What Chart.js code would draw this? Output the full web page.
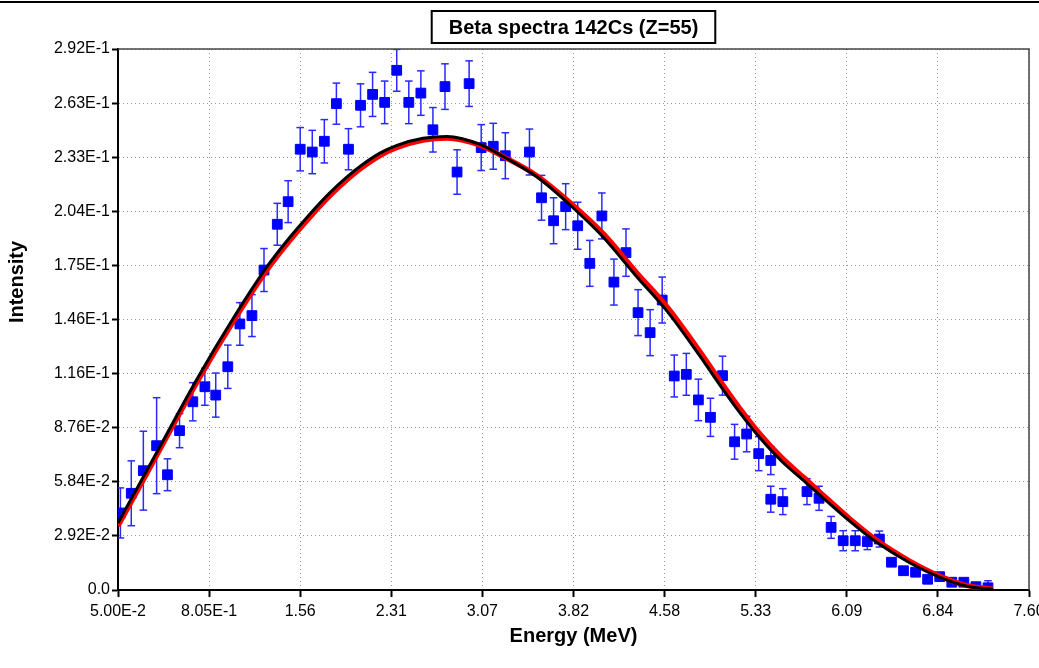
<!DOCTYPE html>
<html>
<head>
<meta charset="utf-8">
<title>Beta spectra 142Cs (Z=55)</title>
<script src="https://cdn.jsdelivr.net/npm/chart.js@4.4.0/dist/chart.umd.min.js"></script>
<style>
  html, body { margin: 0; padding: 0; background: #fff; }
  #wrap { position: relative; width: 1039px; height: 668px; }
</style>
</head>
<body>
<div id="wrap"><canvas id="chart"></canvas></div>
<script>
const chartTitle = 'Beta spectra 142Cs (Z=55)';
const xTitle = 'Energy (MeV)';
const yTitle = 'Intensity';

const xTickValues = [0.05, 0.805, 1.56, 2.315, 3.07, 3.825, 4.58, 5.335, 6.09, 6.845, 7.60];
const xTickLabels = ['5.00E-2', '8.05E-1', '1.56', '2.31', '3.07', '3.82', '4.58', '5.33', '6.09', '6.84', '7.60'];
const yTickValues = [0, 0.0292, 0.0584, 0.0876, 0.1168, 0.146, 0.1752, 0.2044, 0.2336, 0.2628, 0.292];
const yTickLabels = ['0.0', '2.92E-2', '5.84E-2', '8.76E-2', '1.16E-1', '1.46E-1', '1.75E-1', '2.04E-1', '2.33E-1', '2.63E-1', '2.92E-1'];

// measured spectrum (blue squares with error bars)
const pointEnergy = [
  0.07, 0.16, 0.26, 0.37, 0.46, 0.56, 0.67, 0.77, 0.86, 0.96,
  1.06, 1.16, 1.26, 1.37, 1.46, 1.56, 1.66, 1.76, 1.86, 1.96,
  2.06, 2.16, 2.26, 2.36, 2.46, 2.56, 2.66, 2.76, 2.86, 2.96,
  3.06, 3.16, 3.26, 3.46, 3.56, 3.66, 3.76, 3.86, 3.96, 4.06,
  4.16, 4.26, 4.36, 4.46, 4.56, 4.66, 4.76, 4.86, 4.96, 5.06,
  5.16, 5.26, 5.36, 5.46, 5.46, 5.56, 5.76, 5.86, 5.96, 6.06,
  6.16, 6.26, 6.36, 6.46, 6.56, 6.66, 6.76, 6.86, 6.96, 7.06,
  7.16, 7.26
];
const pointIntensity = [
  0.0416, 0.0522, 0.0644, 0.0779, 0.0622, 0.0860, 0.1016, 0.1097, 0.1052, 0.1205,
  0.1436, 0.1481, 0.1727, 0.1974, 0.2096, 0.2379, 0.2364, 0.2422, 0.2625, 0.2379,
  0.2616, 0.2675, 0.2632, 0.2805, 0.2632, 0.2682, 0.2484, 0.2717, 0.2256, 0.2733,
  0.2388, 0.2395, 0.2344, 0.2364, 0.2117, 0.1993, 0.2069, 0.1966, 0.1763, 0.2019,
  0.1662, 0.1821, 0.1497, 0.1389, 0.1565, 0.1155, 0.1164, 0.1026, 0.0932, 0.1157,
  0.0800, 0.0842, 0.0736, 0.0699, 0.0490, 0.0477, 0.0531, 0.0495, 0.0338, 0.0266,
  0.0266, 0.0261, 0.0275, 0.0150, 0.0104, 0.0096, 0.0058, 0.0072, 0.0042, 0.0042,
  0.0018, 0.0012
];
const pointError = [
  0.0135, 0.0175, 0.0213, 0.0259, 0.0086, 0.0092, 0.0103, 0.0100, 0.0119, 0.0117,
  0.0115, 0.0113, 0.0116, 0.0113, 0.0113, 0.0117, 0.0117, 0.0117, 0.0111, 0.0111,
  0.0116, 0.0119, 0.0115, 0.0113, 0.0115, 0.0120, 0.0120, 0.0123, 0.0120, 0.0123,
  0.0124, 0.0124, 0.0124, 0.0124, 0.0121, 0.0124, 0.0124, 0.0127, 0.0124, 0.0124,
  0.0124, 0.0128, 0.0124, 0.0124, 0.0124, 0.0113, 0.0113, 0.0112, 0.0103, 0.0105,
  0.0094, 0.0096, 0.0092, 0.0076, 0.0070, 0.0070, 0.0070, 0.0065, 0.0059, 0.0054,
  0.0054, 0.0043, 0.0043, 0.0016, 0.0016, 0.0016, 0.0016, 0.0016, 0.0016, 0.0016,
  0.0016, 0.0038
];

// calculated spectra (black and red curves)
const curveEnergy = [
  0.05, 0.373, 0.705, 1.004, 1.285, 1.476, 1.641, 1.807, 1.948, 2.080,
  2.221, 2.362, 2.578, 2.777, 3.050, 3.241, 3.523, 3.796, 4.070, 4.351,
  4.600, 4.873, 5.050, 5.200, 5.371, 5.550, 5.744, 5.926, 6.117, 6.340,
  6.614, 6.863, 7.086, 7.302
];
const blackCurve = [
  0.0362, 0.0745, 0.1139, 0.1465, 0.1745, 0.1905, 0.2030, 0.2145, 0.2230, 0.2298,
  0.2358, 0.2400, 0.2438, 0.2448, 0.2405, 0.2340, 0.2229, 0.2078, 0.1905, 0.1689,
  0.1505, 0.1262, 0.1095, 0.0960, 0.0820, 0.0695, 0.0584, 0.0478, 0.0370, 0.0256,
  0.0146, 0.0068, 0.0020, 0.0003
];
const redCurve = [
  0.0345, 0.0728, 0.1121, 0.1447, 0.1727, 0.1887, 0.2012, 0.2128, 0.2214, 0.2283,
  0.2344, 0.2387, 0.2427, 0.2438, 0.2400, 0.2340, 0.2236, 0.2092, 0.1925, 0.1712,
  0.1530, 0.1288, 0.1120, 0.0984, 0.0843, 0.0716, 0.0602, 0.0494, 0.0384, 0.0268,
  0.0156, 0.0075, 0.0024, 0.0005
];

const FONT = '"Liberation Sans", Arial, sans-serif';

const toXY = (xs, ys) => xs.map((x, i) => ({ x: x, y: ys[i] }));

// vertical error segments, separated by gaps
const errorBars = [];
pointEnergy.forEach((e, i) => {
  errorBars.push({ x: e, y: pointIntensity[i] - pointError[i] });
  errorBars.push({ x: e, y: pointIntensity[i] + pointError[i] });
  errorBars.push({ x: e, y: null });
});

// plot box, window edge, boxed title and y title
const frame = {
  id: 'frame',
  beforeDatasetsDraw(chart) {
    const { ctx, chartArea: a } = chart;
    ctx.save();
    ctx.strokeStyle = '#444';
    ctx.lineWidth = 1.5;
    ctx.beginPath();
    ctx.moveTo(a.left, a.top);
    ctx.lineTo(a.right, a.top);
    ctx.lineTo(a.right, a.bottom);
    ctx.stroke();
    ctx.restore();
  },
  afterDraw(chart) {
    const { ctx, chartArea: a, width } = chart;
    ctx.save();
    ctx.fillStyle = '#000';
    ctx.fillRect(0, 1, width, 2);
    ctx.font = 'bold 20px ' + FONT;
    const cx = (a.left + a.right) / 2;
    const w = ctx.measureText(chartTitle).width + 34;
    ctx.fillStyle = '#fff';
    ctx.fillRect(cx - w / 2, 11, w, 32);
    ctx.lineWidth = 2;
    ctx.strokeStyle = '#000';
    ctx.strokeRect(cx - w / 2, 11, w, 32);
    ctx.fillStyle = '#000';
    ctx.textAlign = 'center';
    ctx.textBaseline = 'middle';
    ctx.fillText(chartTitle, cx, 28);
    // y axis title sits above the centre of the axis in the original
    ctx.translate(17, 282);
    ctx.rotate(-Math.PI / 2);
    ctx.fillText(yTitle, 0, 0);
    ctx.restore();
  }
};

const ctx = document.getElementById('chart').getContext('2d');
new Chart(ctx, {
  type: 'scatter',
  data: {
    datasets: [{
      label: 'calc 1',
      data: toXY(curveEnergy, blackCurve),
      showLine: true,
      borderColor: '#000',
      borderWidth: 3,
      pointRadius: 0,
      cubicInterpolationMode: 'monotone',
      order: 0
    }, {
      label: 'calc 2',
      data: toXY(curveEnergy, redCurve),
      showLine: true,
      borderColor: '#ff0000',
      borderWidth: 5,
      pointRadius: 0,
      cubicInterpolationMode: 'monotone',
      order: 1
    }, {
      label: 'experiment',
      data: toXY(pointEnergy, pointIntensity),
      pointStyle: 'rect',
      pointRadius: 6.9,
      pointBorderWidth: 1,
      backgroundColor: '#0000ff',
      borderColor: '#0000ff',
      order: 2
    }, {
      label: 'errors',
      data: errorBars,
      showLine: true,
      spanGaps: false,
      borderColor: '#2a2aff',
      borderWidth: 1.5,
      pointStyle: 'line',
      pointRadius: 3.8,
      pointBorderWidth: 1.5,
      pointBorderColor: '#2a2aff',
      order: 3
    }]
  },
  options: {
    responsive: true,
    maintainAspectRatio: false,
    animation: false,
    events: [],
    layout: { padding: { top: 49, right: 10, left: 0, bottom: 0 } },
    plugins: {
      legend: { display: false },
      tooltip: { enabled: false },
      title: { display: false }
    },
    scales: {
      x: {
        type: 'linear',
        min: 0.05,
        max: 7.60,
        afterBuildTicks: s => { s.ticks = xTickValues.map(v => ({ value: v })); },
        afterFit: s => { s.height = 78; s.paddingLeft = 0; s.paddingRight = 0; },
        ticks: {
          callback: (v, i) => xTickLabels[i],
          font: { family: FONT, size: 16 },
          color: '#000',
          padding: 5,
          maxRotation: 0,
          autoSkip: false
        },
        grid: { color: '#999', lineWidth: 1, tickColor: '#000', tickWidth: 2, tickLength: 7 },
        border: { display: true, color: '#000', width: 2, dash: [1, 3] },
        title: {
          display: true,
          text: xTitle,
          color: '#000',
          font: { family: FONT, size: 20, weight: 'bold' },
          padding: { top: 0, bottom: 20 }
        }
      },
      y: {
        type: 'linear',
        min: 0,
        max: 0.292,
        afterBuildTicks: s => { s.ticks = yTickValues.map(v => ({ value: v })); },
        afterFit: s => { s.width = 118; },
        ticks: {
          callback: (v, i) => yTickLabels[i],
          font: { family: FONT, size: 16 },
          color: '#000',
          padding: 2
        },
        grid: { color: '#999', lineWidth: 1, tickColor: '#000', tickWidth: 2, tickLength: 6 },
        border: { display: true, color: '#000', width: 2, dash: [1, 3] },
        title: { display: false, text: yTitle }
      }
    }
  },
  plugins: [frame]
});
</script>
</body>
</html>
